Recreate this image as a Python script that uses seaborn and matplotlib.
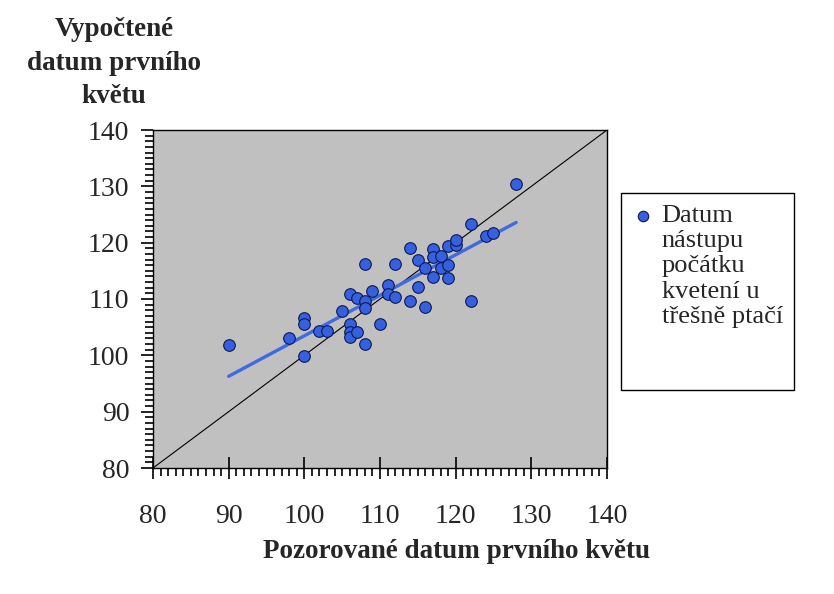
import matplotlib
matplotlib.use("Agg")
import matplotlib.pyplot as plt
from matplotlib.patches import Rectangle
from matplotlib.ticker import MultipleLocator
import numpy as np
import pandas as pd
import seaborn as sns

# observed (x) vs computed (y) day of first flowering
observed = [90, 98, 100, 100, 100, 102, 103, 105, 106, 106,
            106, 106, 107, 107, 108, 108, 108, 108, 109, 110,
            111, 111, 112, 112, 114, 114, 115, 115, 116, 116,
            117, 117, 117, 118, 118, 119, 119, 119, 120, 120,
            122, 122, 124, 125, 128]
computed = [101.8, 103.1, 106.6, 105.6, 99.9, 104.3, 104.3, 107.9, 110.9, 105.6,
            104.1, 103.3, 110.2, 104.1, 116.2, 109.6, 108.4, 102.0, 111.4, 105.6,
            112.5, 110.9, 116.2, 110.4, 119.1, 109.6, 116.9, 112.1, 115.5, 108.6,
            118.9, 117.5, 113.9, 117.6, 115.5, 119.4, 116.0, 113.7, 119.6, 120.5,
            123.3, 109.6, 121.2, 121.7, 130.4]

series_label = "Datum\nnástupu\npočátku\nkvetení u\ntřešně ptačí"
x_title = "Pozorované datum prvního květu"
y_title = "Vypočtené\ndatum prvního\nkvětu"

df = pd.DataFrame({"obs": observed, "calc": computed})

sns.set_style("white")
plt.rcParams["font.family"] = ["Liberation Serif", "DejaVu Serif"]

fig = plt.figure(figsize=(8.34, 5.94), dpi=100)
ax = fig.add_axes([153 / 834, 1 - 468 / 594, 454 / 834, 338 / 594])
ax.set_facecolor("#C0C0C0")

# 1:1 line
ax.plot([80, 140], [80, 140], color="black", lw=0.8, zorder=1)

sns.regplot(data=df, x="obs", y="calc", scatter=False, ci=None, ax=ax,
            truncate=True, line_kws={"color": "#3F6AE0", "lw": 2.4, "zorder": 2})
sns.scatterplot(data=df, x="obs", y="calc", ax=ax, s=70, color="#3560E0",
                edgecolor="#101850", linewidth=0.8, zorder=3, label=series_label)

ax.set_xlim(80, 140)
ax.set_ylim(80, 140)
ax.xaxis.set_major_locator(MultipleLocator(10))
ax.yaxis.set_major_locator(MultipleLocator(10))
ax.xaxis.set_minor_locator(MultipleLocator(1))
ax.yaxis.set_minor_locator(MultipleLocator(1))
ax.tick_params(axis="both", which="both", bottom=True, left=True,
               color="black", width=1.2)
ax.tick_params(axis="both", which="major", labelsize=20)
ax.tick_params(axis="x", which="major", direction="inout", length=16, pad=18)
ax.tick_params(axis="y", which="major", direction="out", length=9, pad=8)
ax.tick_params(axis="both", which="minor", direction="out", length=6)
for sp in ax.spines.values():
    sp.set_color("black")
    sp.set_linewidth(1.0)

ax.set_xlabel("")
ax.set_ylabel("")
fig.text(457 / 834, 1 - 551 / 594, x_title, ha="center", va="center",
         fontsize=19.5, fontweight="bold")
fig.text(114 / 834, 1 - 63 / 594, y_title, ha="center", va="center",
         fontsize=19.5, fontweight="bold", linespacing=1.45)

# legend box drawn by hand so it can be taller than the text
fig.add_artist(Rectangle((621 / 834, 1 - 390 / 594), 173 / 834, 197 / 594,
                         transform=fig.transFigure, facecolor="white",
                         edgecolor="black", linewidth=1.0, zorder=-1))
leg = ax.legend(loc="upper left", bbox_to_anchor=(618 / 834, 1 - 193 / 594),
                bbox_transform=fig.transFigure, borderaxespad=0, fontsize=19,
                frameon=False, handletextpad=0.2, handlelength=1.0,
                borderpad=0.45, markerscale=0.9)
for t in leg.get_texts():
    t.set_linespacing(1.19)
# put the marker next to the first line of the label
for column in leg._legend_handle_box.get_children():
    for entry in column.get_children():
        entry.align = "top"

fig.savefig("out.png", dpi=100)
